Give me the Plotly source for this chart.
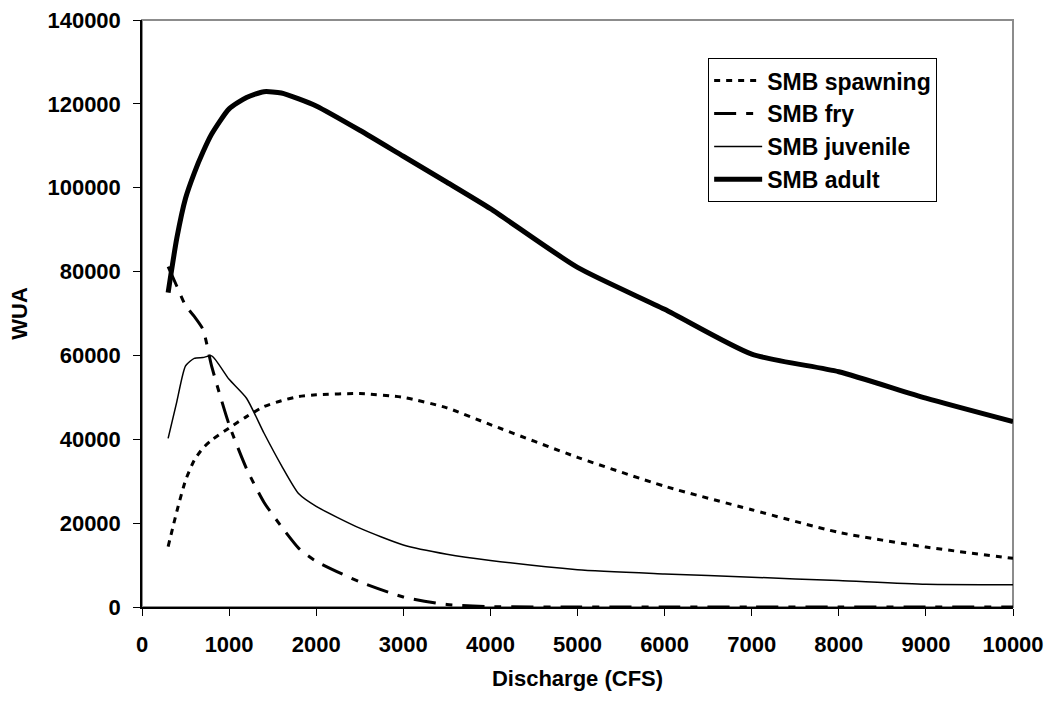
import plotly.graph_objects as go

# Discharge values (CFS) at which weighted usable area was computed
discharge = [300, 400, 500, 600, 700, 800, 1000, 1200, 1400, 1600, 1800, 2000,
             2500, 3000, 3500, 4000, 5000, 6000, 7000, 8000, 9000, 10000]

# Weighted usable area for each smallmouth bass life stage
smb_spawning = [14400, 22800, 30200, 35000, 37900, 39800, 42700, 45400, 47800, 49200,
                50200, 50600, 50900, 50000, 47500, 43500, 35700, 28800, 23200, 17800,
                14300, 11600]
smb_fry = [81200, 76500, 71900, 69300, 66200, 57400, 43500, 33000, 25000, 19200,
           14000, 10900, 6000, 2400, 600, 100, 0, 0, 0, 0, 0, 0]
smb_juvenile = [40200, 49000, 57500, 59300, 59500, 59900, 54300, 49800, 41500, 33800,
                27000, 24000, 18800, 14800, 12600, 11100, 8900, 7900, 7100, 6300,
                5400, 5300]
smb_adult = [75000, 88000, 97500, 103500, 108500, 112800, 118800, 121500, 122900, 122600,
             121200, 119500, 113700, 107500, 101300, 95000, 81000, 71000, 60300, 56100,
             49800, 44200]

x_ticks = list(range(0, 10001, 1000))
y_ticks = list(range(0, 140001, 20000))

FONT = "Liberation Sans, Arial, sans-serif"
TEXT_SIZE = 22

series = [
    ("SMB spawning", smb_spawning, dict(width=3, dash="6px,6px")),
    ("SMB fry", smb_fry, dict(width=3, dash="22px,10px,7px,10px")),
    ("SMB juvenile", smb_juvenile, dict(width=1.5)),
    ("SMB adult", smb_adult, dict(width=5)),
]

fig = go.Figure()
for name, values, style in series:
    fig.add_trace(go.Scatter(
        x=discharge, y=values, name=name, mode="lines",
        line=dict(color="black", shape="spline", smoothing=0.6, **style),
    ))

# grey plot-area frame (top and right edges show; left/bottom covered by axes)
fig.add_shape(type="rect", xref="x domain", yref="y domain", x0=0, x1=1, y0=0, y1=1,
              line=dict(color="#8c8c8c", width=2), layer="below")

fig.update_layout(
    width=1050, height=702,
    margin=dict(l=142, r=37, t=20, b=95),
    paper_bgcolor="white", plot_bgcolor="white",
    font=dict(family=FONT, size=TEXT_SIZE, color="black"),
    showlegend=True,
    legend=dict(
        x=0.65, y=0.935, xanchor="left", yanchor="top",
        bgcolor="white", bordercolor="black", borderwidth=1,
        font=dict(family=FONT, size=23, color="black", weight="bold"),
        tracegroupgap=0, itemwidth=48,
    ),
    xaxis=dict(
        range=[0, 10000], tickvals=x_ticks, ticktext=[str(v) for v in x_ticks],
        showline=True, linecolor="black", linewidth=1.5, mirror=False,
        ticks="outside", ticklen=7, tickcolor="black", tickwidth=1,
        showgrid=False, zeroline=False, automargin=False,
        tickfont=dict(family=FONT, size=TEXT_SIZE, weight="bold"),
        ticklabelstandoff=10,
        title=dict(text="Discharge (CFS)",
                   font=dict(family=FONT, size=TEXT_SIZE, weight="bold"),
                   standoff=14),
    ),
    yaxis=dict(
        range=[0, 140000], tickvals=y_ticks, ticktext=[str(v) for v in y_ticks],
        showline=True, linecolor="black", linewidth=1.5,
        ticks="outside", ticklen=7, tickcolor="black", tickwidth=1,
        showgrid=False, zeroline=False, automargin=False,
        tickfont=dict(family=FONT, size=TEXT_SIZE, weight="bold"),
        ticklabelstandoff=8,
        title=dict(text="WUA", font=dict(family=FONT, size=TEXT_SIZE, weight="bold"),
                   standoff=14),
    ),
)

fig.write_html("out.html")
